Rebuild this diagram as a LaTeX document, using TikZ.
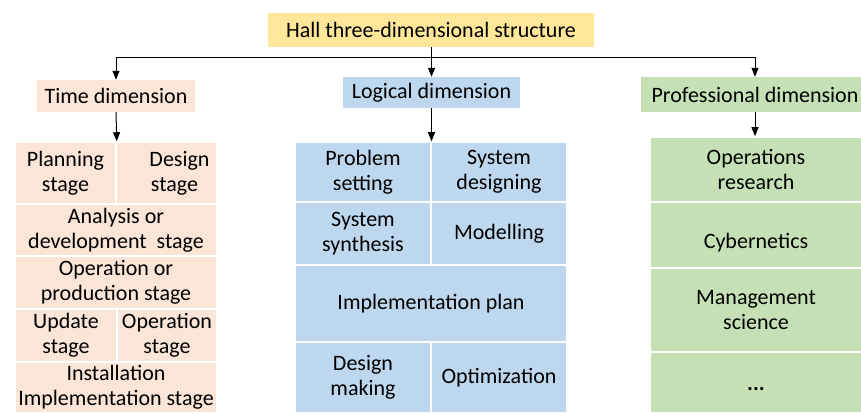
\documentclass[tikz,border=0pt]{standalone}
\usepackage{fontspec}
\setmainfont{Carlito}
\usepackage{tikz}
\usetikzlibrary{arrows.meta}

\definecolor{hallyellow}{HTML}{FFE699}
\definecolor{timepeach}{HTML}{FBE5D6}
\definecolor{logicblue}{HTML}{BDD7EE}
\definecolor{profgreen}{HTML}{C5E0B4}

\begin{document}
\begin{tikzpicture}[x=1pt, y=-1pt, font=\fontsize{22}{25}\selectfont,
    head/.style = {inner sep=0pt, align=center},
    cell/.style = {draw=white, line width=1.5pt, inner sep=0pt, align=center},
    arr/.style = {-{Triangle[length=9pt, width=7pt]}, line width=1pt}]
                \useasboundingbox (0,0) rectangle (861,414);
                % headers
                \node[head, fill=hallyellow, minimum width=326, minimum height=34] (hall) at (431,30) {Hall three-dimensional structure};
                \node[head, fill=timepeach, minimum width=158, minimum height=32] (time) at (116,96) {Time dimension};
                \node[head, fill=logicblue, minimum width=177, minimum height=31] (logic) at (431.5,92.5) {Logical dimension};
                \node[head, fill=profgreen, minimum width=228, minimum height=35] (prof) at (755,94.5) {Professional dimension};
                % time dimension
                \node[cell, fill=timepeach, minimum width=101, minimum height=62] (t1) at (65.5,173) {Planning\\stage};
                \node[cell, fill=timepeach, minimum width=101, minimum height=62] (t2) at (166.5,173) {\hspace*{26pt}Design\\\hspace*{16pt}stage};
                \node[cell, fill=timepeach, minimum width=202, minimum height=52] (t3) at (116,230) {Analysis or\\development\ \ stage};
                \node[cell, fill=timepeach, minimum width=202, minimum height=53] (t4) at (116,282.5) {Operation or\\production stage};
                \node[cell, fill=timepeach, minimum width=102, minimum height=53] (t5) at (66,335.5) {Update\\stage};
                \node[cell, fill=timepeach, minimum width=100, minimum height=53] (t6) at (167,335.5) {Operation\\stage};
                \node[cell, fill=timepeach, minimum width=202, minimum height=51] (t7) at (116,387.5) {Installation\\Implementation stage};
                % logical dimension
                \node[cell, fill=logicblue, minimum width=136, minimum height=60] (l1) at (363,172) {Problem\\setting};
                \node[cell, fill=logicblue, minimum width=136, minimum height=60] (l2) at (499,172) {System\\designing};
                \node[cell, fill=logicblue, minimum width=136, minimum height=63] (l3) at (363,233.5) {System\\synthesis};
                \node[cell, fill=logicblue, minimum width=136, minimum height=63] (l4) at (499,233.5) {Modelling};
                \node[cell, fill=logicblue, minimum width=272, minimum height=77] (l5) at (431,303.5) {Implementation plan};
                \node[cell, fill=logicblue, minimum width=136, minimum height=71] (l6) at (363,377.5) {Design\\making};
                \node[cell, fill=logicblue, minimum width=136, minimum height=71] (l7) at (499,377.5) {Optimization};
                % professional dimension
                \node[cell, fill=profgreen, minimum width=212, minimum height=65] (p1) at (756,169.5) {Operations\\research};
                \node[cell, fill=profgreen, minimum width=212, minimum height=66, text height=31pt, text depth=5pt] (p2) at (756,235) {Cybernetics};
                \node[cell, fill=profgreen, minimum width=212, minimum height=84] (p3) at (756,310) {Management\\science};
                \node[cell, fill=profgreen, minimum width=212, minimum height=61, text height=15pt, text depth=0pt] (p4) at (756,382.5) {\textbf{...}};
                % connectors
                \coordinate (bus) at (431,58);
                \draw[line width=1pt] (hall.south) -- (bus);
                \draw[arr] (bus) -| (time.north);
                \draw[arr] (bus) -- (bus -| logic.north) -- (logic.north);
                \draw[arr] (bus) -| (prof.north);
                \draw[arr] (time.south) -- (t1.north east);
                \draw[arr] (logic.south) -- (logic.south |- l1.north);
                \draw[arr] (prof.south) -- (prof.south |- p1.north);
            \end{tikzpicture}
\end{document}
